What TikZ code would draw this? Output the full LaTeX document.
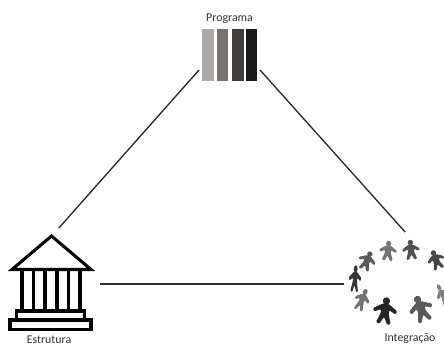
\documentclass[tikz,border=0pt]{standalone}
\usepackage{fontspec}
\setmainfont{Carlito}
\usetikzlibrary{positioning}
\definecolor{BarA}{HTML}{B0ABAB}
\definecolor{BarB}{HTML}{787372}
\definecolor{BarC}{HTML}{403E3C}
\definecolor{BarD}{HTML}{1A1A1A}
\definecolor{Edge}{HTML}{2A2A2A}

\begin{document}
\begin{tikzpicture}[
  x=0.75pt, y=-0.75pt,
  iconbox/.style={inner sep=0pt, outer sep=0pt},
  label/.style={font=\fontsize{8.9pt}{10pt}\selectfont, text=black!80, inner sep=0pt},
  bar/.style={inner sep=0pt, outer sep=0pt, minimum height=39pt},
  link/.style={draw=Edge, line width=1pt},
  temple/.style={draw=black, line width=2.3pt, fill=white, miter limit=10},
  person/.pic={
    \fill[#1, rounded corners=0.8pt] (-2,-5.5) -- (2,-5.5) -- (9,-1) -- (8,1.5) -- (3,-1)
      -- (3,2) -- (5.5,9) -- (3,10) -- (0,4.5) -- (-3,10) -- (-5.5,9) -- (-3,2)
      -- (-3,-1) -- (-8,1.5) -- (-9,-1) -- cycle;
    \fill[#1] (0,-7.5) circle (2.7);
  }
]
  \useasboundingbox (0,0) rectangle (444,345);

  % boxes the connectors attach to
  \node[iconbox, minimum width=45.75pt, minimum height=31.5pt] (programa) at (229.5,49) {};
  \node[iconbox, minimum width=73.5pt, minimum height=84pt] (estrutura) at (51,284) {};
  \node[iconbox, minimum width=76.5pt, minimum height=78pt] (integracao) at (395,284) {};

  \draw[link] (programa.south west) -- (estrutura.82);
  \draw[link] (programa.south east) -- (integracao.79);
  \draw[link] (estrutura.east) -- (integracao.west);

  % programa
  \node[label] (programaText) at (229.5,18.5) {Programa};
  \node[bar, fill=BarA, minimum width=9pt] (barA) at (208,55) {};
  \node[bar, fill=BarB, minimum width=8.5pt] (barB) at (222.5,55) {};
  \node[bar, fill=BarC, minimum width=9.5pt] (barC) at (238,55) {};
  \node[bar, fill=BarD, minimum width=8.5pt] (barD) at (251.5,55) {};

  % estrutura
  \draw[temple] (51.5,236) -- (12,269.5) -- (91,269.5) -- cycle;
  \foreach \colx in {22,33.5,45,57,68.5,80}
    \draw[temple] (\colx,269.5) -- (\colx,311);
  \draw[temple] (16.5,311) rectangle (84.5,320);
  \draw[temple] (10,320) rectangle (91,329.5);
  \node[label] (estruturaText) at (49,339.5) {Estrutura};

  % integracao
  \pic[rotate=-5] at (388,251) {person={black!55}};
  \pic[rotate=5] at (411,250) {person={black!68}};
  \pic[rotate=20] at (436,260) {person={black!72}};
  \pic[rotate=-22] at (367,261) {person={black!65}};
  \pic[rotate=-4, xscale=0.7, yscale=1.35] at (355,279) {person={black!78}};
  \pic[rotate=-22, xscale=0.85, yscale=1.15] at (362,300) {person={black!55}};
  \pic[rotate=-8, scale=1.35] at (385,311) {person={black!85}};
  \pic[rotate=20, scale=1.35] at (421,309) {person={black!65}};
  \pic[rotate=25, xscale=0.7, yscale=1.25] at (443,296) {person={black!50}};
  \node[label] (integracaoText) at (410,338.5) {Integração};
\end{tikzpicture}
\end{document}
